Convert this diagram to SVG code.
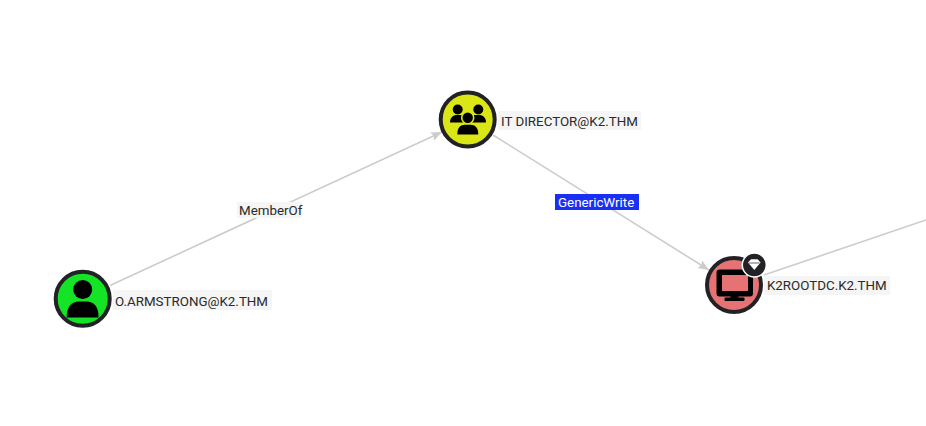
<svg xmlns="http://www.w3.org/2000/svg" width="926" height="426" viewBox="0 0 926 426">
<style>
.edge{stroke:#cccccc;stroke-width:1.6;fill:none}
.arrow{marker-end:url(#ah)}
.ring{stroke:#222226;stroke-width:4}
.bg{fill:#f5f5f5}
text{font-family:Roboto,"Liberation Sans",sans-serif;font-size:13.35px;fill:#2a2a2a;dominant-baseline:central}
.ico{fill:#000000}
</style>
<defs>
<marker id="ah" markerUnits="userSpaceOnUse" markerWidth="12" markerHeight="10" refX="11" refY="4.5" orient="auto">
<path d="M0 0L11 4.5L0 9L2 4.5Z" fill="#cccccc"/>
</marker>
</defs>
<rect width="926" height="426" fill="#ffffff"/>
<g id="connectors">
<path class="edge arrow" d="M110 285.500L442 132"/>
<path class="edge arrow" d="M493 135L709 270"/>
<path class="edge" d="M764 275L926 220"/>
<g id="label-memberof"><rect class="bg" x="237" y="202" width="65" height="16"/><text x="239" y="210.500">MemberOf</text></g>
<g id="label-genericwrite"><rect x="555" y="194" width="84" height="16" fill="#1a2ff5"/><text x="558" y="202.500" style="fill:#ffffff">GenericWrite</text></g>
</g>
<g id="node-armstrong">
<circle class="ring" cx="82.700" cy="298.700" r="27" fill="#14e326"/>
<circle class="ico" cx="82.700" cy="289.500" r="9.500"/>
<path class="ico" d="M66.700 317.500C66.500 306 72 301.500 79 301.500H86.500C93.500 301.500 98.800 306 98.500 317.500Z"/>
<rect class="bg" x="113" y="290" width="159" height="20"/>
<text x="115" y="301">O.ARMSTRONG@K2.THM</text>
</g>
<g id="node-itdirector">
<circle class="ring" cx="467.700" cy="119.500" r="27" fill="#dbe617"/>
<g class="ico">
<circle cx="457.700" cy="109.500" r="5"/>
<circle cx="478.300" cy="109.500" r="5"/>
<path d="M450 122.500C450 117.500 453 115 457 115H479C483 115 486 117.500 486 122.500Z"/>
<circle cx="467.700" cy="117.700" r="6" stroke="#dbe617" stroke-width="1.600"/>
<path d="M457.300 134.500C457.300 127.500 460.500 124.800 465 124.800H470.500C475 124.800 478.300 127.500 478.300 134.500Z"/>
</g>
<rect class="bg" x="498" y="111" width="143" height="19"/>
<text x="501" y="121">IT DIRECTOR@K2.THM</text>
</g>
<g id="node-k2rootdc">
<circle class="ring" cx="734" cy="285" r="27" fill="#e57373"/>
<g class="ico">
<path fill-rule="evenodd" d="M719.500 269.500H750Q753 269.500 753 272.500V293.500Q753 296.500 750 296.500H719.500Q716.500 296.500 716.500 293.500V272.500Q716.500 269.500 719.500 269.500ZM722 275V291H748V275Z"/>
<rect x="730.500" y="296" width="8" height="4"/>
<rect x="724.500" y="297.500" width="20" height="3.500" rx="1"/>
</g>
<circle cx="754.300" cy="265" r="12" fill="#222226" stroke="#ffffff" stroke-width="1.500"/>
<path d="M748 262.500L751 259.300H757.600L760.600 262.500L754.300 270Z" fill="#ffffff"/>
<path d="M749 263H759.600" stroke="#222226" stroke-width="0.700"/>
<rect class="bg" x="764" y="276" width="126" height="19"/>
<text x="767" y="285.500">K2ROOTDC.K2.THM</text>
</g>
</svg>
